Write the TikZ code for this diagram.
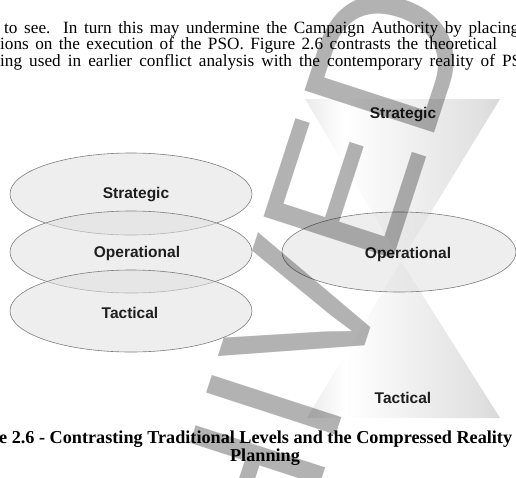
\documentclass[tikz,border=0pt]{standalone}
\usepackage{fontspec}
\setmainfont{Liberation Serif}
\setsansfont{Liberation Sans}
\usetikzlibrary{shapes.geometric, positioning, calc}
\definecolor{RimGray}{RGB}{125, 125, 125}
\definecolor{InkGray}{RGB}{30, 30, 30}
\pgfdeclarehorizontalshading{conegrad}{100bp}{color(0bp)=(black!28); color(35bp)=(white); color(70bp)=(black!12); color(100bp)=(black!32)}
% justified line of the running text
\newcommand{\fillline}[2]{\hbox to #1{#2}}

\begin{document}
\begin{tikzpicture}[x=1pt, y=-1pt,
    tier/.style={ellipse, draw=RimGray, line width=0.6pt, fill=black!12, fill opacity=0.55, minimum width=242pt, minimum height=82pt, inner sep=0pt},
    tiername/.style={font=\sffamily\bfseries\fontsize{15.5}{18}\selectfont, text=InkGray, inner sep=0pt},
    body/.style={font=\fontsize{17.2}{19}\selectfont, anchor=base west, inner sep=0pt},
    caption/.style={font=\bfseries\fontsize{18.2}{21}\selectfont, inner sep=0pt},
    stamp/.style={font=\sffamily\fontsize{198}{198}\selectfont, text=black, text opacity=0.3, inner sep=0pt}
]
    \useasboundingbox (0,0) rectangle (516,477);
    \clip (0,0) rectangle (516,477);

    % running text
    \node[body] (line1) at (4,33) {\fillline{515pt}{to see.  In turn this may undermine the Campaign Authority by placing}};
    \node[body] (line2) at (0,49.5) {\fillline{497pt}{ions on the execution of the PSO.  Figure 2.6 contrasts the theoretical}};
    \node[body] (line3) at (0,66) {\fillline{521pt}{ing used in earlier conflict analysis with the contemporary reality of PS}};

    % traditional levels
    \node[tier] (strat) at (131,194) {};
    \node[tier] (oper) at (131,252) {};
    \node[tier] (tact) at (131,311) {};
    \node[tiername] (stratname) at (136,195) {Strategic};
    \node[tiername] (opername) at (137,253) {Operational};
    \node[tiername] (tactname) at (130,313) {Tactical};

    % compressed reality
    \coordinate (apex) at (401,261);
    \shade[shading=conegrad] (305,99) -- (500,99) -- (apex) -- cycle;
    \shade[shading=conegrad] (apex) -- (307,418) -- (500,418) -- cycle;
    \node[tier, minimum width=234pt, minimum height=80pt] (operr) at (399,252) {};
    \node[tiername] (coneup) at (403,115) {Strategic};
    \node[tiername] (opernamer) at (408,254) {Operational};
    \node[tiername] (conedown) at (403,398) {Tactical};

    % caption
    \node[caption, anchor=base west] (cap1) at (-1,443) {e 2.6 - Contrasting Traditional Levels and the Compressed Reality};
    \node[caption, anchor=base] (cap2) at (265,461) {Planning};

    % watermark
    \node[stamp, rotate=72, anchor=base west] (mark) at (157,986) {ARCHIVED};
\end{tikzpicture}
\end{document}
